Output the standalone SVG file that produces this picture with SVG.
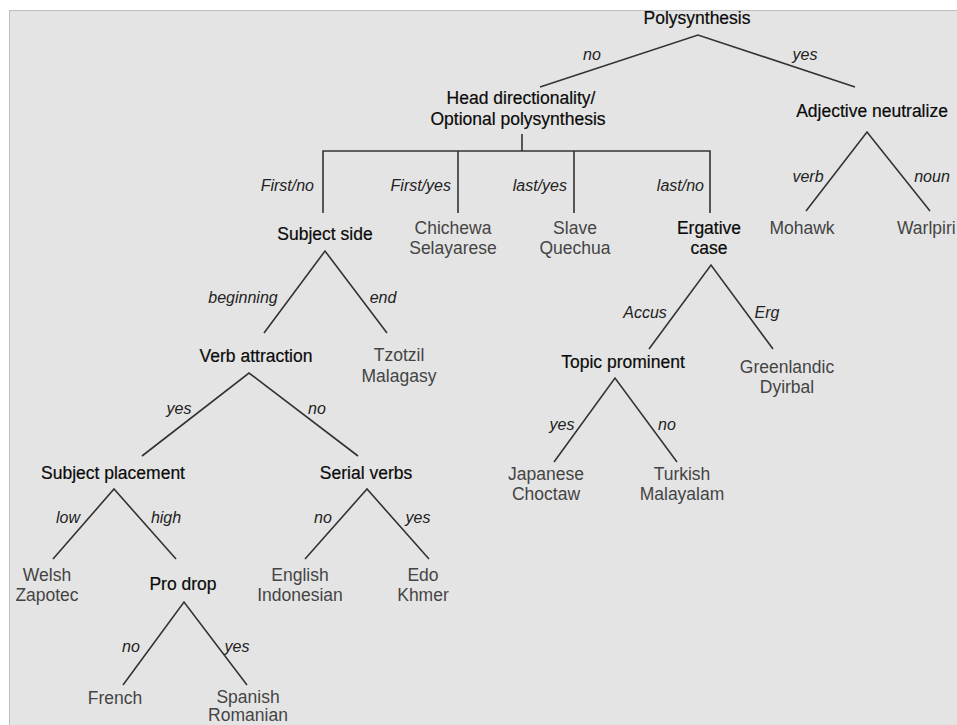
<svg xmlns="http://www.w3.org/2000/svg" width="957" height="725" viewBox="0 0 957 725">
<style>
text{font-family:"Liberation Sans",Arial,sans-serif;text-anchor:middle}
.n{font-size:17.5px;fill:#0a0a0a;stroke:#0a0a0a;stroke-width:0.2}
.l{font-size:17.5px;fill:#444}
.e{font-size:16px;font-style:italic;fill:#222}
.er{font-size:16px;font-style:italic;fill:#222;text-anchor:end}
#connectors line,#connectors path{stroke:#333;stroke-width:1.6;fill:none}
</style>
<rect width="957" height="725" fill="#ffffff"/>
<rect x="9.5" y="10.5" width="950" height="720" fill="#e4e4e4" stroke="#bdbdbd" stroke-width="1"/>
<g id="connectors">
<path d="M540 87 L698 35 L855 87"/>
<line x1="522" y1="134" x2="522" y2="151"/>
<path d="M323 213 V151 H710 V213"/>
<line x1="458" y1="151" x2="458" y2="213"/>
<line x1="574" y1="151" x2="574" y2="213"/>
<path d="M806 211 L867 132 L930 211"/>
<path d="M264 333 L325 251 L387 333"/>
<path d="M142 456 L249 373 L358 456"/>
<path d="M53 559 L114 489 L176 559"/>
<path d="M305 559 L367 489 L429 559"/>
<path d="M123 685 L184 602 L247 685"/>
<path d="M649 349 L711 265 L773 349"/>
<path d="M554 462 L615 378 L677 462"/>
<text class="e" x="592" y="60">no</text>
<text class="e" x="805" y="60">yes</text>
<text class="er" x="314" y="191">First/no</text>
<text class="er" x="451" y="191">First/yes</text>
<text class="er" x="567" y="191">last/yes</text>
<text class="er" x="704" y="191">last/no</text>
<text class="e" x="808" y="182">verb</text>
<text class="e" x="932" y="182">noun</text>
<text class="e" x="243" y="303">beginning</text>
<text class="e" x="383" y="303">end</text>
<text class="e" x="179" y="414">yes</text>
<text class="e" x="317" y="414">no</text>
<text class="e" x="68" y="523">low</text>
<text class="e" x="166" y="523">high</text>
<text class="e" x="323" y="523">no</text>
<text class="e" x="418" y="523">yes</text>
<text class="e" x="131" y="652">no</text>
<text class="e" x="237" y="652">yes</text>
<text class="e" x="645" y="318">Accus</text>
<text class="e" x="767" y="318">Erg</text>
<text class="e" x="562" y="430">yes</text>
<text class="e" x="667" y="430">no</text>
</g>
<g id="polysynthesis"><text class="n" x="697" y="24">Polysynthesis</text></g>
<g id="head-directionality"><text class="n" x="521" y="104">Head directionality/</text><text class="n" x="518" y="125">Optional polysynthesis</text></g>
<g id="adjective-neutralize"><text class="n" x="872" y="117">Adjective neutralize</text></g>
<g id="mohawk"><text class="l" x="802" y="234">Mohawk</text></g>
<g id="warlpiri"><text class="l" x="897" y="234" style="text-anchor:start">Warlpiri</text></g>
<g id="subject-side"><text class="n" x="325" y="240">Subject side</text></g>
<g id="chichewa"><text class="l" x="453" y="234">Chichewa</text><text class="l" x="453" y="254">Selayarese</text></g>
<g id="slave"><text class="l" x="575" y="234">Slave</text><text class="l" x="575" y="254">Quechua</text></g>
<g id="ergative-case"><text class="n" x="709" y="234">Ergative</text><text class="n" x="709" y="254">case</text></g>
<g id="verb-attraction"><text class="n" x="256" y="362">Verb attraction</text></g>
<g id="tzotzil"><text class="l" x="399" y="361">Tzotzil</text><text class="l" x="399" y="382">Malagasy</text></g>
<g id="topic-prominent"><text class="n" x="623" y="368">Topic prominent</text></g>
<g id="greenlandic"><text class="l" x="787" y="373">Greenlandic</text><text class="l" x="787" y="393">Dyirbal</text></g>
<g id="japanese"><text class="l" x="546" y="480">Japanese</text><text class="l" x="546" y="500">Choctaw</text></g>
<g id="turkish"><text class="l" x="682" y="480">Turkish</text><text class="l" x="682" y="500">Malayalam</text></g>
<g id="subject-placement"><text class="n" x="113" y="479">Subject placement</text></g>
<g id="serial-verbs"><text class="n" x="366" y="479">Serial verbs</text></g>
<g id="welsh"><text class="l" x="47" y="581">Welsh</text><text class="l" x="47" y="601">Zapotec</text></g>
<g id="pro-drop"><text class="n" x="183" y="590">Pro drop</text></g>
<g id="english"><text class="l" x="300" y="581">English</text><text class="l" x="300" y="601">Indonesian</text></g>
<g id="edo"><text class="l" x="423" y="581">Edo</text><text class="l" x="423" y="601">Khmer</text></g>
<g id="french"><text class="l" x="115" y="704">French</text></g>
<g id="spanish"><text class="l" x="248" y="703">Spanish</text><text class="l" x="248" y="721">Romanian</text></g>
</svg>
